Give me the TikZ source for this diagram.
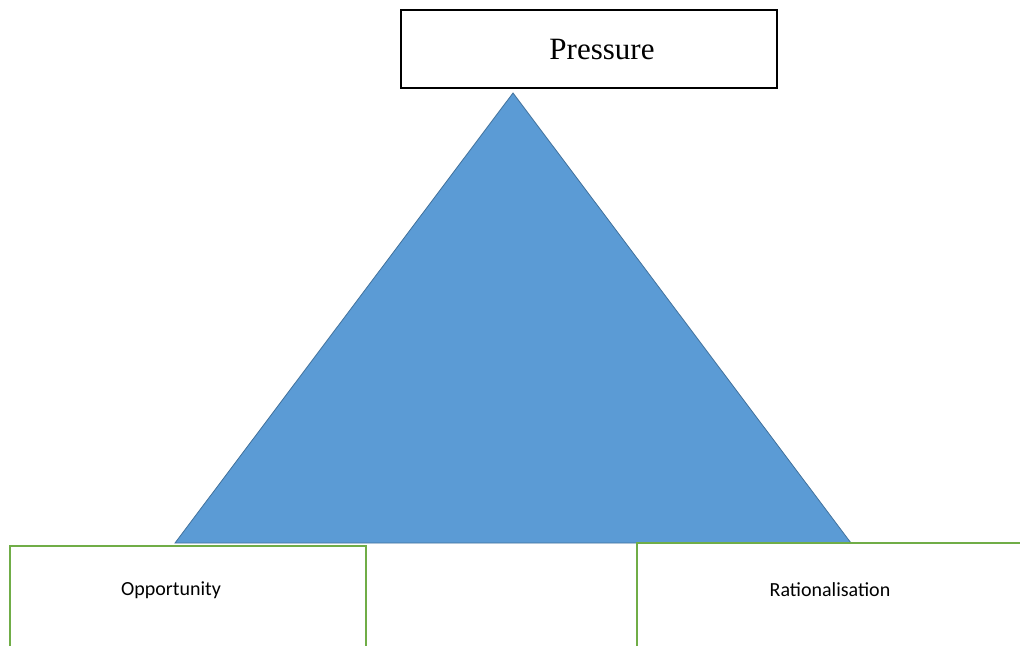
\documentclass[tikz,border=0pt]{standalone}
\usepackage{fontspec}
\setmainfont{Liberation Serif}
\newfontfamily\calfont{Carlito}
\usepackage{xcolor}
\usetikzlibrary{positioning}
\definecolor{triblue}{HTML}{5B9BD5}
\definecolor{triedge}{HTML}{41719C}
\definecolor{boxgreen}{HTML}{70AD47}

\begin{document}
\begin{tikzpicture}[x=1pt,y=-1pt,
    topbox/.style={draw=black,line width=1.6pt,minimum width=376pt,minimum height=78pt,inner sep=0pt},
    side/.style={draw=boxgreen,line width=1.5pt},
    sidetext/.style={font=\calfont\fontsize{20}{24}\selectfont,inner sep=0pt}]

\useasboundingbox (0,0) rectangle (1020,646);

% Triangulo
\coordinate (apex) at (513,93);
\coordinate (esq) at (175,543);
\coordinate (dir) at (851,543);
\filldraw[fill=triblue,draw=triedge,line width=0.8pt] (apex) -- (esq) -- (dir) -- cycle;

% Caixa do topo
\node[topbox] (pbox) at (589,49) {};
\node[font=\fontsize{31}{36}\selectfont,inner sep=0pt] (pressure) at (602,49) {Pressure};

% Caixas de baixo (cortadas pela margem)
\draw[side] (10,646) -- (10,546) -- (366,546) -- (366,646);
\draw[side] (637,646) -- (637,543) -- (1020,543);

\node[sidetext] (opp) at (171,590) {Opportunity};
\node[sidetext] (rat) at (830,590) {Rationalisation};

\end{tikzpicture}
\end{document}
